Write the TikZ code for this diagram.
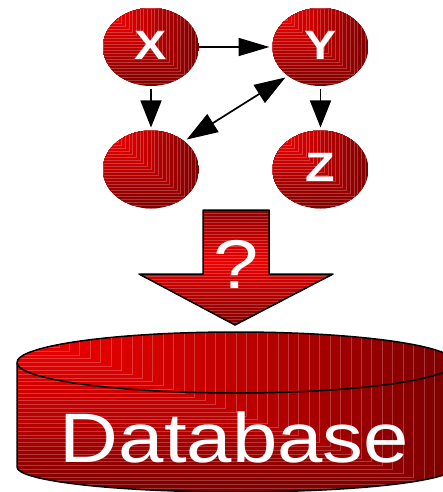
\documentclass[tikz,border=0pt]{standalone}
\usepackage{fontspec}
\setmainfont{Liberation Sans}
\usetikzlibrary{shapes.geometric,arrows.meta,calc}
\definecolor{hired}{RGB}{238,0,0}
\definecolor{lored}{RGB}{124,0,0}
\newcommand{\wide}[1]{\scalebox{1.18}[1]{#1}}
% nested rectangles held at one corner, growing darker outward
\newcommand{\stepfill}[3]{% corner A, corner B, number of steps
  \foreach \i in {#3,...,1}{
    \pgfmathsetmacro{\p}{100-100*(\i/#3)^1.3}
    \colorlet{stepc}{hired!\p!lored}
    \fill[stepc,draw=stepc!78!white,line width=.4pt]
      (#1) rectangle ($(#1)!\i/#3!(#2)$);
  }}
\newcommand{\bandfill}[3]{% top-left, bottom-right, number of bands
  \foreach \i in {0,...,#3}{
    \pgfmathsetmacro{\p}{100-100*abs(\i/#3-0.45)/0.55}
    \colorlet{stepc}{hired!\p!lored}
    \coordinate (bandpt) at ($(#1)!\i/#3!(#2)$);
    \fill[stepc,draw=stepc!78!white,line width=.4pt]
      (#1 |- bandpt) rectangle (#2);
  }}
\tikzset{
  ball/.style={ellipse,minimum width=96pt,minimum height=78pt,inner sep=0pt,outer sep=3pt,
    text=white,font=\fontsize{41}{41}\selectfont\bfseries,text depth=4pt,
    path picture={\stepfill{path picture bounding box.north west}{path picture bounding box.south east}{26}}},
  link/.style={draw=black,line width=1.7pt,-{Triangle[length=31pt,width=18pt]}},
  downlink/.style={draw=black,line width=1.7pt,-{Triangle[length=27pt,width=21pt]}},
  twolink/.style={draw=black,line width=1.7pt,{Triangle[length=31pt,width=21pt]}-{Triangle[length=31pt,width=21pt]}},
  outline/.style={draw=black,line width=1.5pt,line join=round},
  bigtext/.style={text=white,inner sep=0pt},
}
\begin{document}
\begin{tikzpicture}[x=1pt,y=-1pt]
\useasboundingbox (0,0) rectangle (443,492);
\clip (0,0) rectangle (443,492);
% balls
\node[ball] (x) at (151,47) {\wide{X}};
\node[ball] (y) at (320.5,47) {\wide{Y}};
\node[ball] (u) at (151,169.5) {};
\node[ball] (z) at (320.5,169.5) {\wide{Z}};
% connectors
\draw[link,shorten <=-3pt] (x.east) -- (y.west);
\draw[downlink] (x.south) -- (u.north);
\draw[downlink] (y.south) -- (z.north);
\draw[twolink] (u.40) -- (y.221);
% block arrow
\coordinate (arrowa) at (139,210);
\coordinate (arrowb) at (333,325);
\begin{scope}
  \clip (203,210) -- (269,210) -- (269,274) -- (333,274) -- (235,325) -- (139,274) -- (203,274) -- cycle;
  \bandfill{arrowa}{arrowb}{38}
\end{scope}
\draw[outline] (203,210) -- (269,210) -- (269,274) -- (333,274) -- (235,325) -- (139,274) -- (203,274) -- cycle;
\node[bigtext,font=\fontsize{69}{69}\selectfont] (q) at (236,264) {\wide{?}};
% database
\coordinate (dba) at (17,332);
\coordinate (dbb) at (455,492);
\begin{scope}
  \clip (17,362.5) arc[start angle=180,end angle=360,x radius=219,y radius=30.5]
        -- (455,467) arc[start angle=0,end angle=180,x radius=219,y radius=25] -- cycle;
  \stepfill{dba}{dbb}{42}
\end{scope}
\draw[outline] (17,362.5) arc[start angle=180,end angle=540,x radius=219,y radius=30.5];
\draw[outline] (17,362.5) -- (17,467) arc[start angle=180,end angle=0,x radius=219,y radius=25] -- (455,362.5);
\node[bigtext,font=\fontsize{70}{70}\selectfont] (db) at (234.5,437) {\scalebox{1.165}[1]{Database}};
\end{tikzpicture}
\end{document}
